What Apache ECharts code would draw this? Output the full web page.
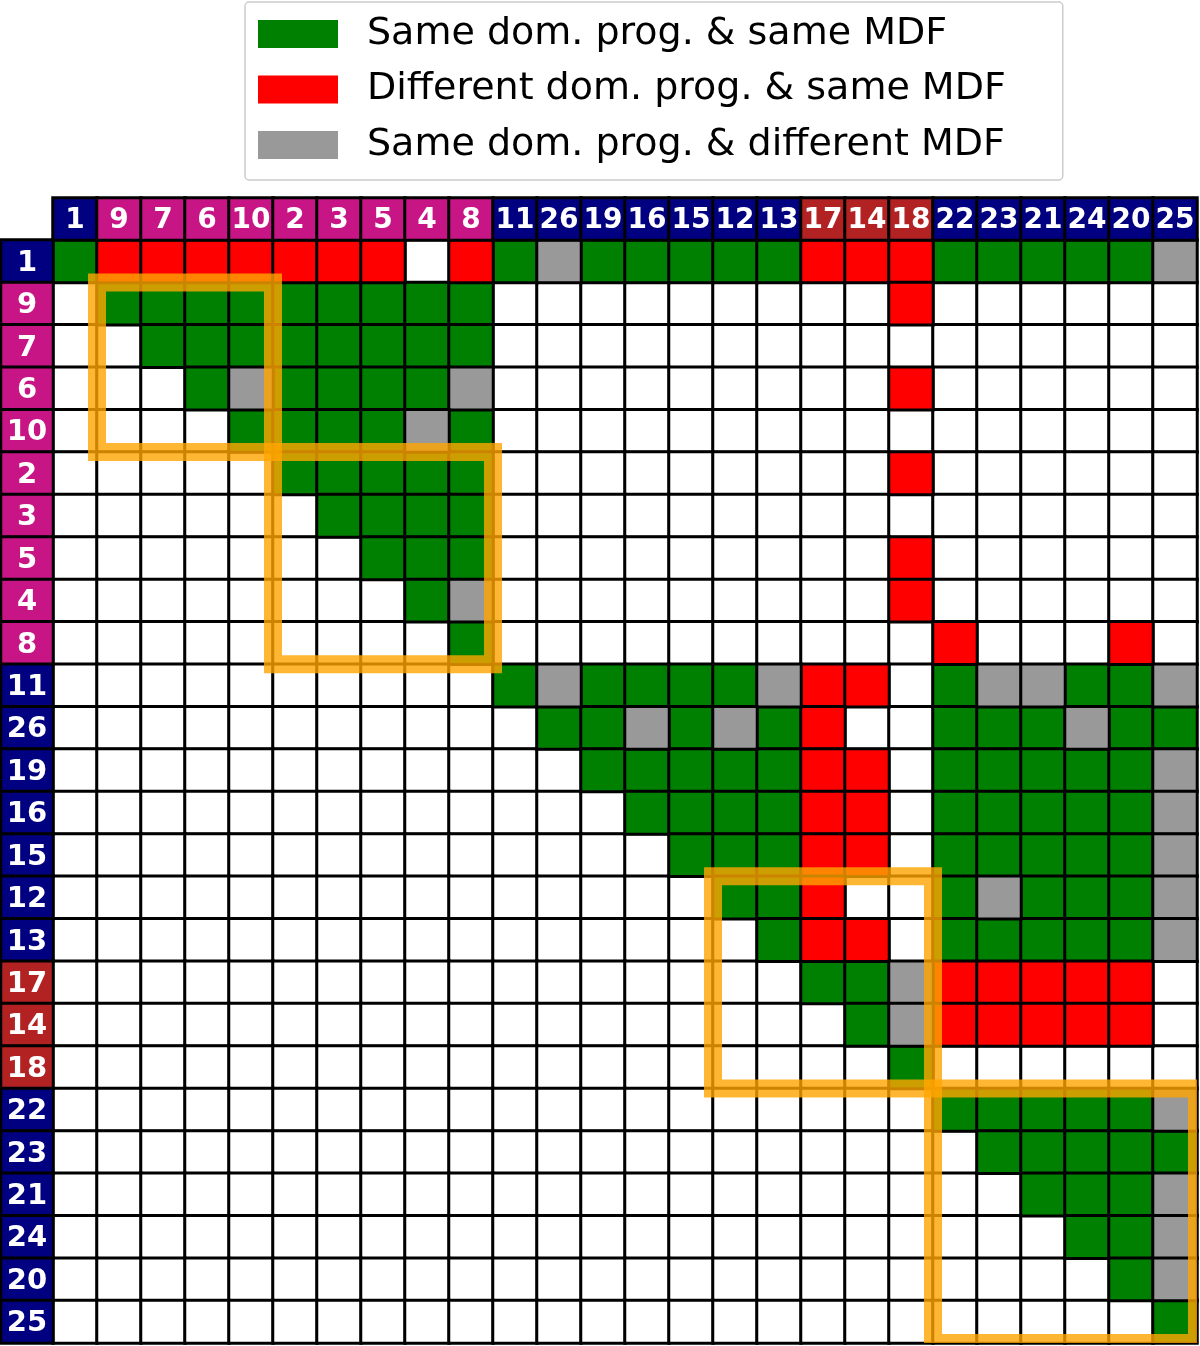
<!DOCTYPE html>
<html>
<head>
<meta charset="utf-8">
<script src="https://cdn.jsdelivr.net/npm/echarts@6/dist/echarts.min.js"></script>
<style>
  html, body { margin: 0; padding: 0; background: #fff; }
  #pair_matrix { width: 1200px; height: 1346px; }
</style>
</head>
<body>
<div id="pair_matrix"></div>
<script>
  // order of the systems along both axes
  const order = [1, 9, 7, 6, 10, 2, 3, 5, 4, 8, 11, 26, 19, 16, 15, 12, 13, 17, 14, 18, 22, 23, 21, 24, 20, 25];
  // header colour group of each system: N navy, M magenta, F firebrick
  const headerGroup = ['N', 'M', 'M', 'M', 'M', 'M', 'M', 'M', 'M', 'M', 'N', 'N', 'N', 'N', 'N', 'N', 'N', 'F', 'F', 'F', 'N', 'N', 'N', 'N', 'N', 'N'];
  // G same prog & same MDF, R different prog & same MDF, A same prog & different MDF, . nothing
  const pairRows = [
    'GRRRRRRR.RGAGGGGGRRRGGGGGA',
    '.GGGGGGGGG.........R......',
    '..GGGGGGGG................',
    '...GAGGGGA.........R......',
    '....GGGGAG................',
    '.....GGGGG.........R......',
    '......GGGG................',
    '.......GGG.........R......',
    '........GA.........R......',
    '.........G..........R...R.',
    '..........GAGGGGARR.GAAGGA',
    '...........GGAGAGR..GGGAGG',
    '............GGGGGRR.GGGGGA',
    '.............GGGGRR.GGGGGA',
    '..............GGGRR.GGGGGA',
    '...............GGR..GAGGGA',
    '................GRR.GGGGGA',
    '.................GGARRRRR.',
    '..................GARRRRR.',
    '...................G......',
    '....................GGGGGA',
    '.....................GGGGG',
    '......................GGGA',
    '.......................GGA',
    '........................GA',
    '.........................G'
  ];
  // highlighted blocks, first and last index along the diagonal
  const boxes = [[1, 4], [5, 9], [15, 19], [20, 25]];
  const legendNames = ['Same dom. prog. & same MDF', 'Different dom. prog. & same MDF', 'Same dom. prog. & different MDF'];

  const cellColor = {G: '#008000', R: '#ff0000', A: '#999999', '.': '#ffffff'};
  const headerColor = {N: '#000080', M: '#c71585', F: '#b22222'};
  const labels = order.map(String);

  function cellsOf(code) {
    const out = [];
    pairRows.forEach((row, r) => {
      for (let c = 0; c < row.length; c++) {
        if (row[c] === code) out.push([c, r, 1]);
      }
    });
    return out;
  }

  const cellStyle = {borderColor: '#000', borderWidth: 3};
  function headerLabel(size, formatter) {
    return {
      show: true,
      formatter: formatter,
      color: '#fff',
      fontWeight: 'bold',
      fontSize: size,
      fontFamily: 'DejaVu Sans',
      offset: [0, 2]
    };
  }

  const mainSeries = ['.', 'G', 'R', 'A'].map((code, k) => ({
    name: k === 0 ? 'blank' : legendNames[k - 1],
    type: 'heatmap',
    xAxisIndex: 0,
    yAxisIndex: 0,
    data: cellsOf(code),
    itemStyle: Object.assign({color: cellColor[code]}, cellStyle),
    emphasis: {disabled: true}
  }));

  const option = {
    animation: false,
    backgroundColor: '#fff',
    textStyle: {fontFamily: 'DejaVu Sans'},
    legend: {
      data: legendNames,
      orient: 'vertical',
      left: 245,
      top: 2,
      padding: [12, 57, 15, 13],
      itemGap: 15.5,
      icon: 'rect',
      itemWidth: 80,
      itemHeight: 28,
      itemStyle: {borderWidth: 0},
      selectedMode: false,
      backgroundColor: '#fff',
      borderColor: '#cccccc',
      borderWidth: 1.5,
      borderRadius: 4,
      textStyle: {
        fontSize: 38,
        lineHeight: 40,
        color: '#000',
        fontFamily: 'DejaVu Sans',
        padding: [0, 0, 0, 24]
      }
    },
    grid: [
      {left: 53, top: 240, width: 1144, height: 1103},
      {left: 53, top: 198, width: 1144, height: 42},
      {left: 1, top: 240, width: 52, height: 1103}
    ],
    xAxis: [
      {type: 'category', gridIndex: 0, data: labels, show: false},
      {type: 'category', gridIndex: 1, data: labels, show: false},
      {type: 'category', gridIndex: 2, data: ['h'], show: false}
    ],
    yAxis: [
      {type: 'category', gridIndex: 0, data: labels, inverse: true, show: false},
      {type: 'category', gridIndex: 1, data: ['h'], show: false},
      {type: 'category', gridIndex: 2, data: labels, inverse: true, show: false}
    ],
    series: mainSeries.concat([
      {
        name: 'colHeader',
        type: 'heatmap',
        xAxisIndex: 1,
        yAxisIndex: 1,
        data: order.map((v, i) => ({value: [i, 0, v], itemStyle: {color: headerColor[headerGroup[i]]}})),
        itemStyle: cellStyle,
        label: headerLabel(28, p => labels[p.value[0]]),
        emphasis: {disabled: true}
      },
      {
        name: 'rowHeader',
        type: 'heatmap',
        xAxisIndex: 2,
        yAxisIndex: 2,
        data: order.map((v, i) => ({value: [0, i, v], itemStyle: {color: headerColor[headerGroup[i]]}})),
        itemStyle: cellStyle,
        label: headerLabel(29, p => labels[p.value[1]]),
        emphasis: {disabled: true}
      },
      {
        name: 'blocks',
        type: 'custom',
        xAxisIndex: 0,
        yAxisIndex: 0,
        clip: true,
        data: boxes,
        renderItem: function (params, api) {
          const lo = api.value(0);
          const hi = api.value(1);
          const a = api.coord([lo, lo]);
          const b = api.coord([hi, hi]);
          const s = api.size([1, 1]);
          return {
            type: 'rect',
            shape: {
              x: a[0] - s[0] / 2,
              y: a[1] - s[1] / 2,
              width: b[0] - a[0] + s[0],
              height: b[1] - a[1] + s[1]
            },
            style: {fill: 'none', stroke: 'rgba(255,165,0,0.8)', lineWidth: 18}
          };
        }
      }
    ])
  };

  const pairMatrix = echarts.init(document.getElementById('pair_matrix'));
  pairMatrix.setOption(option);
</script>
</body>
</html>
